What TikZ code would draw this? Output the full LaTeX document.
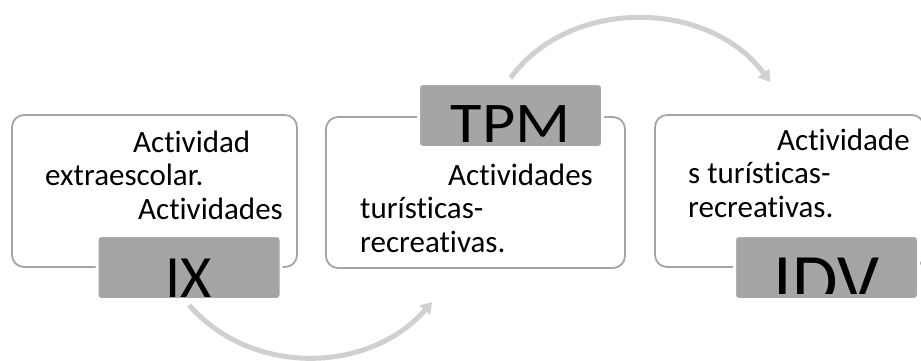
\documentclass[tikz,border=0pt]{standalone}
\usepackage{fontspec}
\setmainfont{Carlito}[Ligatures=NoCommon]
\usetikzlibrary{arrows.meta, positioning}

\definecolor{boxgray}{HTML}{A5A5A5}
\definecolor{tabgray}{HTML}{A5A5A5}
\definecolor{arcgray}{HTML}{D0D0D0}

\tikzset{
  panel/.style={draw=boxgray, line width=1.8pt, rounded corners=12pt, fill=white, inner sep=0pt},
  tab/.style={fill=tabgray, draw=white, line width=3pt, rounded corners=4pt,
    minimum width=184pt, minimum height=64pt, inner sep=0pt,
    font=\fontsize{60}{62}\selectfont, text depth=0pt},
  body/.style={align=left, inner sep=0pt, font=\fontsize{31}{33.5}\selectfont},
  flow/.style={draw=arcgray, line width=5pt, -{Triangle[length=11pt,width=14pt]}},
}

\begin{document}
\begin{tikzpicture}[x=1pt,y=1pt]
  \useasboundingbox (0,0) rectangle (921,360);

  % panels
  \node [panel, minimum width=285pt, minimum height=152pt] (box1) at (154.5,169) {};
  \node [panel, minimum width=299pt, minimum height=151pt] (box2) at (475.5,167.5) {};
  \node [panel, minimum width=269pt, minimum height=152pt] (box3) at (789.5,169) {};

  % texts (anchored on the last line)
  \node [body, anchor=base west] (txt1) at (45,141) {\hspace*{88pt}Actividad\\extraescolar.\\\hspace*{93pt}Actividades};
  \node [body, anchor=base west] (txt2) at (360,108) {\hspace*{88pt}Actividades\\turísticas-\\recreativas.};
  \node [body, anchor=base west] (txt3) at (688,143) {\hspace*{89pt}Actividade\\s turísticas-\\recreativas.};

  % tabs
  \node [tab, text height=59pt] (ix) at (189,92.5) {IX};
  \node [tab, text height=53pt, font=\fontsize{57.5}{60}\selectfont] (tpm) at (510.5,244.5) {\scalebox{1.12}[1]{TPM}};
  \node [tab] (idv) at (826.5,92.5) {};
  \begin{scope}
    \clip (idv.north west) rectangle ([yshift=7.5pt]idv.south east);
    \node [anchor=base, inner sep=0pt, font=\fontsize{74}{76}\selectfont] (idvtext) at (826.5,55) {IDV};
  \end{scope}

  % arcs
  \coordinate (tip1) at (432,58);
  \coordinate (tip2) at (770,278);
  \draw [flow] ([yshift=-4pt]ix.south) to[out=-49,in=-131] (tip1);
  \draw [flow] ([yshift=4pt]tpm.north) to[out=54,in=126] (tip2);
\end{tikzpicture}
\end{document}
